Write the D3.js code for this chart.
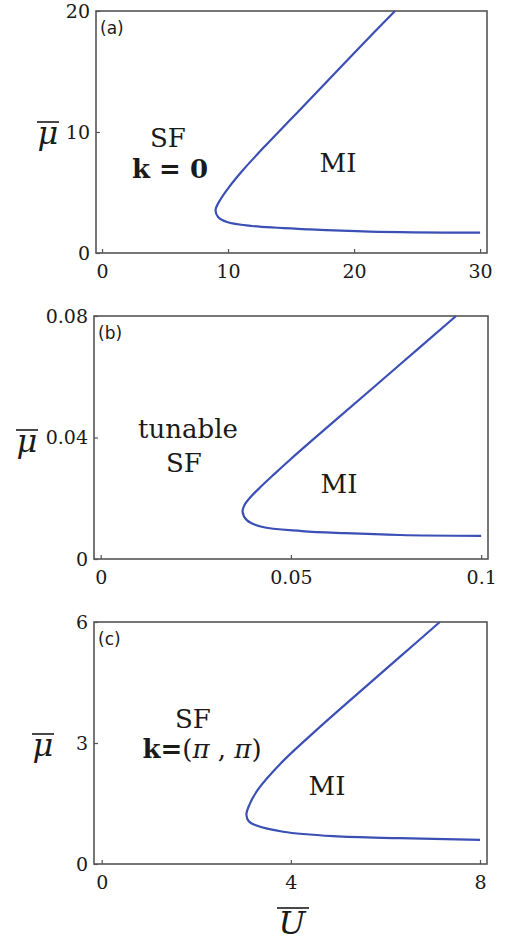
<!DOCTYPE html>
<html>
<head>
<meta charset="utf-8">
<script src="https://cdn.jsdelivr.net/npm/d3@7"></script>
<style>
  body { margin: 0; background: #fff; }
  svg { display: block; }
</style>
</head>
<body>
<div id="chart"></div>
<script>
// phase boundary points [U, mu], ordered along the curve
const boundaryA = [
  [23.25, 20.0], [20.24, 16.78], [16.98, 13.22], [14.92, 10.99], [13.02, 8.93],
  [11.19, 6.86], [10.08, 5.45], [9.37, 4.38], [9.01, 3.55], [9.21, 2.98],
  [9.92, 2.56], [11.90, 2.23], [16.51, 1.95], [21.27, 1.77], [30.0, 1.68]
];
const boundaryB = [
  [0.0934, 0.0800], [0.0779, 0.0632], [0.0618, 0.0458], [0.0557, 0.0392],
  [0.0497, 0.0326], [0.0454, 0.0277], [0.0420, 0.0237], [0.0394, 0.0204],
  [0.0378, 0.0178], [0.0373, 0.0155], [0.0384, 0.0128], [0.0423, 0.0106],
  [0.0529, 0.0092], [0.0642, 0.0085], [0.0787, 0.0079], [0.1, 0.0076]
];
const boundaryC = [
  [7.15, 6.0], [6.31, 5.14], [5.42, 4.23], [4.54, 3.32], [3.79, 2.50],
  [3.30, 1.84], [3.12, 1.46], [3.06, 1.22], [3.11, 1.06], [3.26, 0.96],
  [3.84, 0.80], [4.90, 0.69], [6.31, 0.64], [8.0, 0.60]
];

const xTicksA = [0, 10, 20, 30], yTicksA = [0, 10, 20];
const xTicksB = [0, 0.05, 0.1], yTicksB = [0, 0.04, 0.08];
const xTicksC = [0, 4, 8], yTicksC = [0, 3, 6];

const panelLabels = ["(a)", "(b)", "(c)"];

const width = 505, height = 941;
const svg = d3.select("#chart").append("svg")
  .attr("width", width)
  .attr("height", height);

const serif = "'DejaVu Serif', serif";
const curveColor = "#3b4fb4";
const frameColor = "#555";
const ink = "#1a1a1a";

const panels = [
  {
    data: boundaryA, xTicks: xTicksA, yTicks: yTicksA, label: panelLabels[0],
    xDomain: [-0.48, 30.55], yDomain: [0, 20],
    left: 96, right: 487, top: 11, bottom: 253,
    xFmt: d => d, yFmt: d => d,
    muPos: [48, 135],
    texts: [
      { t: "SF", x: 168, y: 147 },
      { t: "k = 0", x: 170, y: 178, bold: true },
      { t: "MI", x: 338, y: 172 }
    ]
  },
  {
    data: boundaryB, xTicks: xTicksB, yTicks: yTicksB, label: panelLabels[1],
    xDomain: [-0.00176, 0.1018], yDomain: [0, 0.08],
    left: 94, right: 488, top: 316, bottom: 559,
    xFmt: d => d === 0 ? "0" : String(d), yFmt: d => d === 0 ? "0" : d.toFixed(2),
    muPos: [27, 443],
    texts: [
      { t: "tunable", x: 188, y: 438 },
      { t: "SF", x: 184, y: 472 },
      { t: "MI", x: 339, y: 493 }
    ]
  },
  {
    data: boundaryC, xTicks: xTicksC, yTicks: yTicksC, label: panelLabels[2],
    xDomain: [-0.163, 8.148], yDomain: [0, 6],
    left: 94, right: 487, top: 622, bottom: 864,
    xFmt: d => d, yFmt: d => d,
    muPos: [43, 747],
    texts: [
      { t: "SF", x: 193, y: 728 },
      { t: "k=(π , π)", x: 202, y: 758, mixed: true },
      { t: "MI", x: 327, y: 795 }
    ]
  }
];

panels.forEach(p => {
  const x = d3.scaleLinear().domain(p.xDomain).range([p.left, p.right]);
  const y = d3.scaleLinear().domain(p.yDomain).range([p.bottom, p.top]);
  const g = svg.append("g");

  // x axis with inward ticks
  const xAxis = g.append("g")
    .attr("transform", `translate(0,${p.bottom})`)
    .call(d3.axisBottom(x).tickValues(p.xTicks).tickFormat(p.xFmt)
      .tickSizeInner(-4).tickSizeOuter(0).tickPadding(12));
  xAxis.select(".domain").remove();
  xAxis.selectAll("line").attr("stroke", frameColor).attr("stroke-width", 1.2);
  xAxis.selectAll("text").attr("font-family", serif).attr("font-size", 19).attr("fill", ink);

  const yAxis = g.append("g")
    .attr("transform", `translate(${p.left},0)`)
    .call(d3.axisLeft(y).tickValues(p.yTicks).tickFormat(p.yFmt)
      .tickSizeInner(-4).tickSizeOuter(0).tickPadding(6));
  yAxis.select(".domain").remove();
  yAxis.selectAll("line").attr("stroke", frameColor).attr("stroke-width", 1.2);
  yAxis.selectAll("text").attr("font-family", serif).attr("font-size", 19).attr("fill", ink);

  // frame
  g.append("rect")
    .attr("x", p.left).attr("y", p.top)
    .attr("width", p.right - p.left).attr("height", p.bottom - p.top)
    .attr("fill", "none").attr("stroke", frameColor).attr("stroke-width", 1.6);

  // boundary curve
  g.append("path")
    .datum(p.data)
    .attr("d", d3.line().x(d => x(d[0])).y(d => y(d[1])).curve(d3.curveCatmullRom.alpha(0.5)))
    .attr("fill", "none")
    .attr("stroke", curveColor)
    .attr("stroke-width", 2.2);

  // panel label
  g.append("text")
    .attr("x", p.left + 4).attr("y", p.top + 23)
    .attr("font-family", "'DejaVu Sans', sans-serif")
    .attr("font-size", 17)
    .attr("fill", ink)
    .text(p.label);

  // region labels
  p.texts.forEach(t => {
    const txt = g.append("text")
      .attr("x", t.x).attr("y", t.y)
      .attr("text-anchor", "middle")
      .attr("font-family", serif)
      .attr("font-size", 26)
      .attr("fill", ink);
    if (t.mixed) {
      txt.append("tspan").attr("font-weight", "bold").text("k=");
      txt.append("tspan").text("(");
      txt.append("tspan").attr("font-style", "italic").text("π");
      txt.append("tspan").text(" , ");
      txt.append("tspan").attr("font-style", "italic").text("π");
      txt.append("tspan").text(")");
    } else {
      txt.attr("font-weight", t.bold ? "bold" : "normal").text(t.t);
    }
  });

  // y-axis label: mu with overline
  g.append("text")
    .attr("x", p.muPos[0]).attr("y", p.muPos[1] + 9)
    .attr("text-anchor", "middle")
    .attr("font-family", serif)
    .attr("font-style", "italic")
    .attr("font-size", 32)
    .attr("fill", ink)
    .text("μ");
  g.append("line")
    .attr("x1", p.muPos[0] - 11).attr("x2", p.muPos[0] + 11)
    .attr("y1", p.muPos[1] - 13).attr("y2", p.muPos[1] - 13)
    .attr("stroke", ink).attr("stroke-width", 1.6);
});

// x-axis label: U with overline
svg.append("text")
  .attr("x", 292).attr("y", 934)
  .attr("text-anchor", "middle")
  .attr("font-family", serif)
  .attr("font-style", "italic")
  .attr("font-size", 32)
  .attr("fill", ink)
  .text("U");
svg.append("line")
  .attr("x1", 277).attr("x2", 309)
  .attr("y1", 908).attr("y2", 908)
  .attr("stroke", ink).attr("stroke-width", 1.6);
</script>
</body>
</html>
